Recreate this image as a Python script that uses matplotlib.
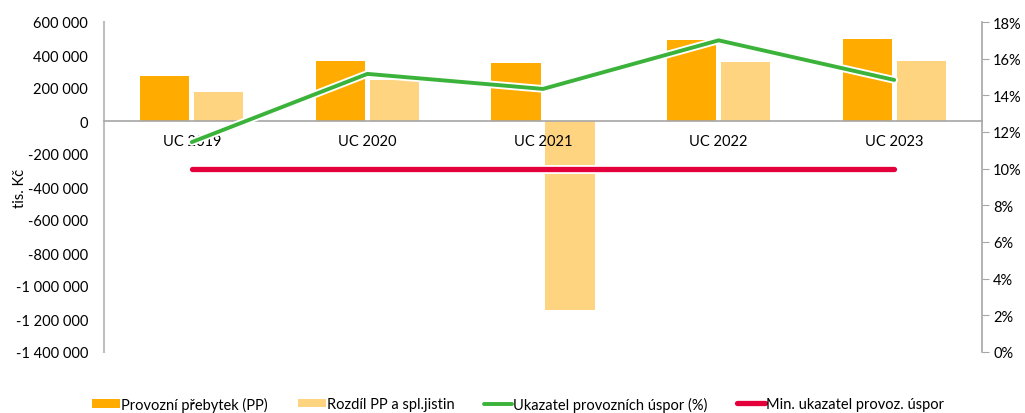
import matplotlib
matplotlib.use("Agg")
import matplotlib.pyplot as plt
import matplotlib.patheffects as pe
from matplotlib.ticker import FuncFormatter, FixedLocator
import numpy as np

categories = ["UC 2019", "UC 2020", "UC 2021", "UC 2022", "UC 2023"]
provozni_prebytek = [275000, 364000, 351000, 493000, 497000]
rozdil_pp_jistin = [174000, 248000, -1143000, 359000, 364000]
ukazatel_uspor = [11.45, 15.17, 14.35, 17.0, 14.84]
min_ukazatel = [10, 10, 10, 10, 10]

plt.rcParams['font.family'] = ['Lato', 'DejaVu Sans']

W, H = 1025, 414
fig = plt.figure(figsize=(W/100, H/100), dpi=100)
ax = fig.add_axes([104/W, 1-353/H, (982-104)/W, (353-23)/H])
ax2 = ax.twinx()

x = np.arange(len(categories))
w = 0.28
off = 0.154
dark = "#FFAB00"
light = "#FFD480"
ax.bar(x - off, provozni_prebytek, w, color=dark, label="Provozní přebytek (PP)", zorder=2)
ax.bar(x + off, rozdil_pp_jistin, w, color=light, label="Rozdíl PP a spl.jistin", zorder=2)

ax.set_xlim(-0.5, len(categories) - 0.5)
ax.set_ylim(-1400000, 600000)
ax.yaxis.set_major_locator(FixedLocator(np.arange(-1400000, 600001, 200000)))
ax.yaxis.set_major_formatter(FuncFormatter(lambda v, p: f"{int(v):,}".replace(",", " ")))
ax.set_ylabel("tis. Kč", fontsize=10.5)
ax.yaxis.set_label_coords((27-104)/878, 0.5)
ax.tick_params(axis='y', length=0, labelsize=10.5, pad=11.5)

ax.set_xticks(x)
ax.set_xticklabels(categories)
ax.xaxis.set_zorder(3)
ax.spines['bottom'].set_position(('data', 0))
ax.spines['bottom'].set_color('#A6A6A6')
ax.spines['bottom'].set_linewidth(1.2)
ax.tick_params(axis='x', length=0, labelsize=10.5, pad=9)
ax.spines['top'].set_visible(False)
ax.spines['right'].set_visible(False)
ax.spines['left'].set_color('#BFBFBF')
ax.spines['left'].set_linewidth(1.5)

green = "#3BB33B"
red = "#E4003A"
ax2.plot(x, ukazatel_uspor, color=green, lw=2.8, solid_capstyle='round',
         path_effects=[pe.Stroke(linewidth=5.5, foreground='white'), pe.Normal()],
         label="Ukazatel provozních úspor (%)")
ax2.plot(x, min_ukazatel, color=red, lw=3.8, solid_capstyle='round',
         path_effects=[pe.Stroke(linewidth=6.5, foreground='white'), pe.Normal()],
         label="Min. ukazatel provoz. úspor")
ax2.set_ylim(0, 18)
ax2.set_yticks(np.arange(0, 19, 2))
ax2.yaxis.set_major_formatter(FuncFormatter(lambda v, p: f"{int(v)}%"))
ax2.tick_params(axis='y', length=5, color='#A6A6A6', labelsize=10.5, pad=3)
for s in ['top', 'left', 'bottom']:
    ax2.spines[s].set_visible(False)
ax2.spines['right'].set_color('#A6A6A6')
ax2.spines['right'].set_linewidth(1.2)

h1, l1 = ax.get_legend_handles_labels()
h2, l2 = ax2.get_legend_handles_labels()
handles = h1 + h2
labels = l1 + l2
leg_x = [92, 298, 484, 737]
for hx, hh, ll in zip(leg_x, handles, labels):
    fig.legend([hh], [ll], loc='center left', bbox_to_anchor=(hx/W, 1-405/H),
               frameon=False, fontsize=10.5, handlelength=1.9, handletextpad=0.12,
               handleheight=0.5, borderpad=0, borderaxespad=0)

fig.savefig("out.png", dpi=100)
